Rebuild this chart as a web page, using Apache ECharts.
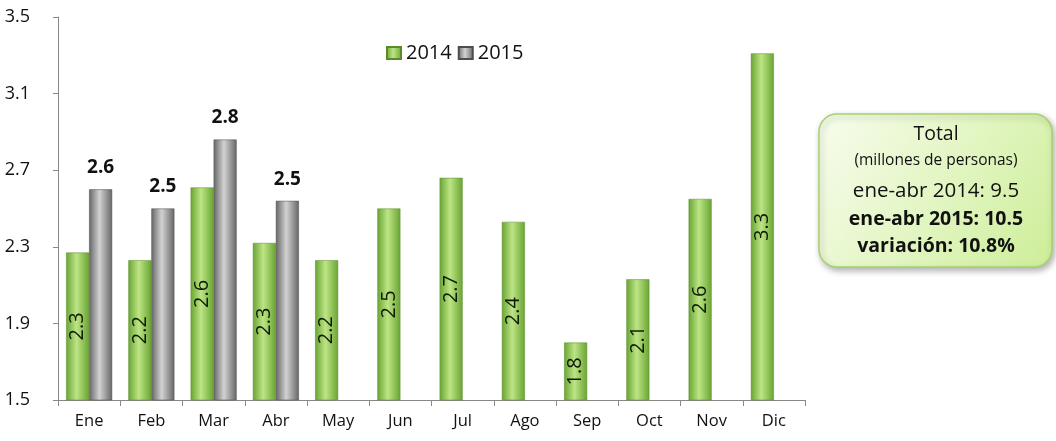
<!DOCTYPE html>
<html>
<head>
<meta charset="utf-8">
<script src="https://cdn.jsdelivr.net/npm/echarts@6/dist/echarts.min.js"></script>
<style>
  html, body { margin: 0; padding: 0; background: #fff; }
  #chart { width: 1056px; height: 441px; }
</style>
</head>
<body>
<div id="chart"></div>
<script>
var months = ['Ene', 'Feb', 'Mar', 'Abr', 'May', 'Jun', 'Jul', 'Ago', 'Sep', 'Oct', 'Nov', 'Dic'];
var values2014 = [2.27, 2.23, 2.61, 2.32, 2.23, 2.50, 2.66, 2.43, 1.80, 2.13, 2.55, 3.31];
var values2015 = [2.60, 2.50, 2.86, 2.54, null, null, null, null, null, null, null, null];
var labels2014 = ['2.3', '2.2', '2.6', '2.3', '2.2', '2.5', '2.7', '2.4', '1.8', '2.1', '2.6', '3.3'];
var labels2015 = ['2.6', '2.5', '2.8', '2.5'];
var boxLines = ['Total', '(millones de personas)', 'ene-abr 2014: 9.5', 'ene-abr 2015: 10.5', 'variación: 10.8%'];

var font = '"Open Sans", "Noto Sans", sans-serif';

function barGradient(edge, mid) {
    return new echarts.graphic.LinearGradient(0, 0, 1, 0, [
        {offset: 0, color: edge},
        {offset: 0.45, color: mid},
        {offset: 1, color: edge}
    ]);
}

var myChart = echarts.init(document.getElementById('chart'));

var option = {
    backgroundColor: '#fff',
    animation: false,
    textStyle: { fontFamily: font },
    grid: { left: 58, right: 251, top: 17, bottom: 41 },
    legend: {
        top: 38,
        left: 381,
        icon: 'rect',
        itemWidth: 14,
        itemHeight: 12,
        itemGap: 6,
        textStyle: { fontSize: 20, color: '#111', fontFamily: font },
        data: ['2014', '2015']
    },
    xAxis: {
        type: 'category',
        data: months,
        axisLine: { lineStyle: { color: '#888' } },
        axisTick: { show: true, length: 6, lineStyle: { color: '#888' } },
        axisLabel: { fontSize: 16.5, color: '#111', margin: 13 }
    },
    yAxis: {
        type: 'value',
        min: 1.5,
        max: 3.5,
        interval: 0.4,
        splitLine: { show: false },
        axisLine: { show: true, lineStyle: { color: '#888' } },
        axisTick: { show: true, length: 5, lineStyle: { color: '#888' } },
        axisLabel: {
            fontSize: 18, color: '#111', margin: 28,
            formatter: function (v) { return v.toFixed(1); }
        }
    },
    series: [
        {
            name: '2014',
            type: 'bar',
            data: values2014,
            barWidth: 23,
            barGap: '0%',
            itemStyle: {
                color: barGradient('#69a432', '#bde585'),
                borderColor: '#5a8a2c',
                borderWidth: 0.5
            },
            label: {
                show: true,
                position: 'inside',
                rotate: 90,
                fontSize: 20,
                color: '#0f1a06',
                formatter: function (p) { return labels2014[p.dataIndex]; }
            }
        },
        {
            name: '2015',
            type: 'bar',
            data: values2015,
            barWidth: 23,
            itemStyle: {
                color: barGradient('#666', '#d2d2d2'),
                borderColor: '#4d4d4d',
                borderWidth: 0.5
            },
            label: {
                show: true,
                position: 'top',
                distance: 12,
                fontSize: 19,
                fontWeight: 'bold',
                color: '#111',
                formatter: function (p) { return labels2015[p.dataIndex]; }
            }
        }
    ],
    graphic: [
        {
            type: 'rect',
            x: 819,
            y: 114,
            shape: { width: 233, height: 153, r: 18 },
            style: {
                fill: new echarts.graphic.LinearGradient(0, 0, 1, 1, [
                    {offset: 0, color: '#f8fdee'},
                    {offset: 1, color: '#cdee98'}
                ]),
                stroke: '#a6d26a',
                lineWidth: 1.5,
                shadowBlur: 6,
                shadowOffsetX: 2,
                shadowOffsetY: 3,
                shadowColor: 'rgba(0,0,0,0.3)'
            }
        }
    ]
};

// box texts
var textMid = [134, 161, 191, 219, 246];
var textSizes = [19.5, 15.5, 20.5, 19.5, 19.5];
var textWeights = ['normal', 'normal', 'normal', 'bold', 'bold'];
for (var i = 0; i < boxLines.length; i++) {
    option.graphic.push({
        type: 'text',
        x: 936,
        y: textMid[i],
        style: {
            text: boxLines[i],
            fontSize: textSizes[i],
            fontWeight: textWeights[i],
            fill: '#111',
            fontFamily: font,
            align: 'center',
            verticalAlign: 'middle'
        }
    });
}

myChart.setOption(option);
</script>
</body>
</html>
